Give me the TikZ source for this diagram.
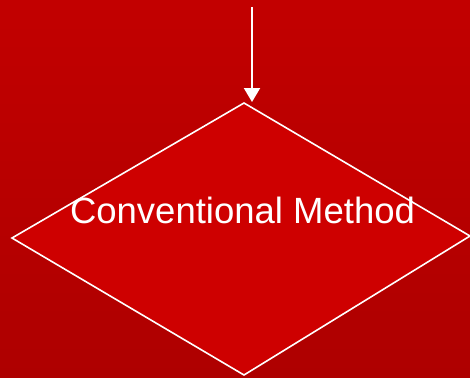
\documentclass[tikz,border=0pt]{standalone}
\usepackage{fontspec}
\setmainfont{Liberation Sans}
\usetikzlibrary{arrows.meta}
\definecolor{bgtop}{RGB}{194,0,0}
\definecolor{bgbottom}{RGB}{174,0,0}
\definecolor{decisionfill}{RGB}{206,0,0}
\tikzset{
  link/.style={draw=white, line width=2bp, -{Triangle[length=14bp,width=16bp]}},
  decision/.style={draw=white, line width=1.6bp, fill=decisionfill, line join=miter},
  label/.style={text=white, font=\fontsize{36.5bp}{40bp}\selectfont, inner sep=0pt, anchor=base}
}
\begin{document}
\begin{tikzpicture}[x=1bp,y=-1bp]
  % backdrop
  \shade[top color=bgtop, bottom color=bgbottom] (0,0) rectangle (470,377);
  \useasboundingbox (0,0) rectangle (470,377);
  % decision diamond corners
  \coordinate (dtop) at (244,103);
  \coordinate (dright) at (470,236);
  \coordinate (dbottom) at (244,375);
  \coordinate (dleft) at (12,238);
  \path[decision] (dtop) -- (dright) -- (dbottom) -- (dleft) -- cycle;
  \node[label] (method) at (242.5,223) {Conventional Method};
  % incoming flow
  \coordinate (src) at (252,7);
  \coordinate (entry) at (252,102);
  \draw[link] (src) -- (entry);
\end{tikzpicture}
\end{document}
